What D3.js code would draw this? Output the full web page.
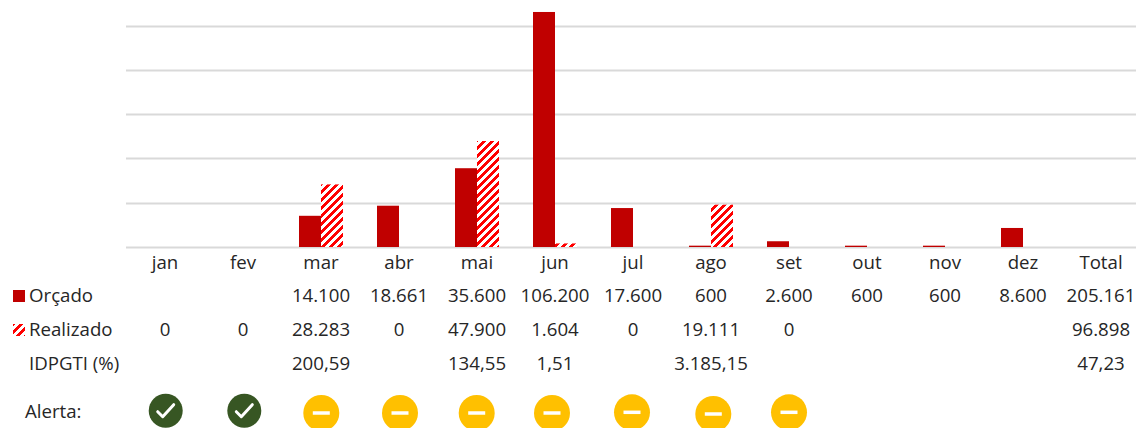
<!DOCTYPE html>
<html><head><meta charset="utf-8"><script src="https://cdn.jsdelivr.net/npm/d3@7"></script>
<style>html,body{margin:0;padding:0;background:#fff}svg{display:block}text{font-family:"Open Sans";font-size:18.67px;fill:#262626}</style></head>
<body><svg id="c" width="1136" height="428"></svg>
<script>
const months=["jan","fev","mar","abr","mai","jun","jul","ago","set","out","nov","dez"];
const columns=[...months,"Total"];
const orcado=[null,null,14100,18661,35600,106200,17600,600,2600,600,600,8600];
const realizado=[0,0,28283,0,47900,1604,0,19111,0,null,null,null];
const orcadoLabels=["","","14.100","18.661","35.600","106.200","17.600","600","2.600","600","600","8.600","205.161"];
const realizadoLabels=["0","0","28.283","0","47.900","1.604","0","19.111","0","","","","96.898"];
const idpLabels=["","","200,59","","134,55","1,51","","3.185,15","","","","","47,23"];
const alerts=["ok","ok","warn","warn","warn","warn","warn","warn","warn"];
const gridValues=[0,20000,40000,60000,80000,100000];
const iconNudgeX=[.7,1.3,.3,1,-.3,-3,-1,2.3,0];
const iconNudgeY=[-.3,-.3,2,2,2,2,1.3,3,1.3];

const svg=d3.select("#c");
const defs=svg.append("defs");
const pat=defs.append("pattern").attr("id","hatch").attr("patternUnits","userSpaceOnUse").attr("width",8).attr("height",8);
pat.append("rect").attr("width",8).attr("height",8).attr("fill","#fff");
// stepped pixel diagonal, like an Office wide upward-diagonal fill
pat.selectAll("rect.s").data(d3.range(8).flatMap(r=>d3.range(4).map(k=>({r,c:(7-r+k)%8})))).join("rect")
  .attr("class","s").attr("x",d=>d.c).attr("y",d=>d.r).attr("width",1).attr("height",1).attr("fill","#ff0000");

const x=d3.scaleBand().domain(columns).range([126,1140]);
const y=d3.scaleLinear().domain([0,100000]).range([247,25.7]);
const barW=22;

svg.append("g").selectAll("line").data(gridValues).join("line")
  .attr("x1",126).attr("x2",1136).attr("y1",d=>Math.round(y(d))+.5).attr("y2",d=>Math.round(y(d))+.5)
  .attr("stroke","#d9d9d9").attr("stroke-width",2);

const cx=c=>x(c)+x.bandwidth()/2;
svg.append("g").selectAll("rect").data(months.map((m,i)=>({m,v:orcado[i]})).filter(d=>d.v)).join("rect")
  .attr("x",d=>cx(d.m)-barW).attr("width",barW).attr("y",d=>y(d.v)).attr("height",d=>y(0)-y(d.v)).attr("fill","#c00000");
svg.append("g").selectAll("rect").data(months.map((m,i)=>({m,v:realizado[i]})).filter(d=>d.v)).join("rect")
  .attr("x",d=>cx(d.m)).attr("width",barW).attr("y",d=>y(d.v)).attr("height",d=>y(0)-y(d.v)).attr("fill","url(#hatch)");

const row=(labels,yy)=>svg.append("g").selectAll("text").data(labels.map((t,i)=>({t,c:columns[i]})).filter(d=>d.t)).join("text")
  .attr("x",d=>cx(d.c)).attr("y",yy).attr("text-anchor","middle").text(d=>d.t);
row(columns,269);row(orcadoLabels,302);row(realizadoLabels,336);row(idpLabels,370);

const lab=(t,xx,yy)=>svg.append("text").attr("x",xx).attr("y",yy).text(t);
lab("Orçado",29,302);lab("Realizado",29,336);lab("IDPGTI (%)",29,370);lab("Alerta:",25,418);
svg.append("rect").attr("x",13).attr("y",290).attr("width",12).attr("height",12).attr("fill","#c00000");
svg.append("rect").attr("x",13).attr("y",324).attr("width",12).attr("height",12).attr("fill","url(#hatch)");

const ic=svg.append("g").selectAll("g").data(alerts.map((a,i)=>({a,c:columns[i],dx:iconNudgeX[i],dy:iconNudgeY[i]}))).join("g")
  .attr("transform",d=>`translate(${cx(d.c)+d.dx},${411+d.dy})`);
ic.append("circle").attr("r",d=>d.a==="ok"?17:18).attr("fill",d=>d.a==="ok"?"#375623":"#ffc000");
ic.filter(d=>d.a==="ok").append("path").attr("d","M-8,1L-3,6L8,-6").attr("fill","none").attr("stroke","#fff").attr("stroke-width",3).attr("stroke-linecap","round").attr("stroke-linejoin","round");
ic.filter(d=>d.a==="warn").append("path").attr("d","M-8.5,0H8.5").attr("stroke","#fff").attr("stroke-width",3.5);
</script></body></html>
